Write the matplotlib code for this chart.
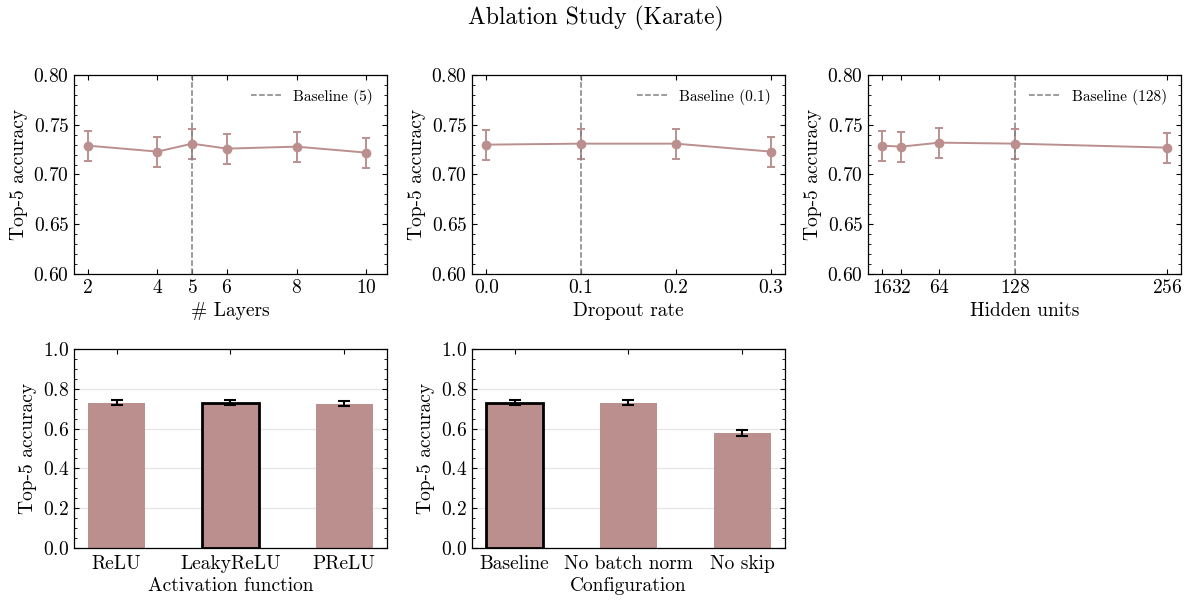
import matplotlib
matplotlib.use("Agg")
import matplotlib.pyplot as plt
from matplotlib.ticker import AutoMinorLocator

# data
layers = [2, 4, 5, 6, 8, 10]
layers_acc = [0.729, 0.723, 0.731, 0.726, 0.728, 0.722]
layers_err = [0.015, 0.015, 0.015, 0.015, 0.015, 0.015]

dropout = [0.0, 0.1, 0.2, 0.3]
dropout_acc = [0.730, 0.731, 0.731, 0.723]
dropout_err = [0.015, 0.015, 0.015, 0.015]

hidden = [16, 32, 64, 128, 256]
hidden_acc = [0.729, 0.728, 0.732, 0.731, 0.727]
hidden_err = [0.015, 0.015, 0.015, 0.015, 0.015]

activations = ["ReLU", "LeakyReLU", "PReLU"]
activation_acc = [0.731, 0.731, 0.726]
activation_err = [0.012, 0.012, 0.012]

configs = ["Baseline", "No batch norm", "No skip"]
config_acc = [0.731, 0.731, 0.578]
config_err = [0.012, 0.012, 0.014]

color = "rosybrown"

plt.rcParams["font.family"] = "serif"
plt.rcParams["font.serif"] = ["cmr10", "DejaVu Serif"]
plt.rcParams["axes.formatter.use_mathtext"] = True
plt.rcParams["mathtext.fontset"] = "cm"
plt.rcParams["axes.unicode_minus"] = False

fig = plt.figure(figsize=(11.91, 6.02), dpi=100)

W = 0.2628
H = 0.3305
lefts = [0.0621, 0.3963, 0.7288]
top_bottom = 0.5449
low_bottom = 0.0897


def style(ax):
    ax.tick_params(which="both", direction="in", top=True, right=True, labelsize=14)
    ax.tick_params(which="major", length=3.6, width=0.8)
    ax.tick_params(which="minor", length=2.0, width=0.6)
    ax.yaxis.set_minor_locator(AutoMinorLocator())
    for s in ax.spines.values():
        s.set_linewidth(0.9)


def line_panel(ax, xs, ys, es, base, label, xlab, ticklabels=None):
    ax.errorbar(xs, ys, yerr=es, color=color, marker="o", markersize=6,
                linewidth=1.4, capsize=3, elinewidth=1.4, capthick=1.4)
    ax.axvline(base, color="gray", linestyle="--", linewidth=1.1, label=label)
    ax.set_ylim(0.6, 0.8)
    ax.set_yticks([0.60, 0.65, 0.70, 0.75, 0.80])
    ax.set_xticks(xs)
    if ticklabels is not None:
        ax.set_xticklabels(ticklabels)
    ax.set_xlabel(xlab, fontsize=14)
    ax.set_ylabel("Top-5 accuracy", fontsize=14)
    ax.legend(loc="upper right", frameon=False, fontsize=11)
    style(ax)


def bar_panel(ax, cats, vals, errs, base_idx, xlab):
    xs = range(len(cats))
    bars = ax.bar(xs, vals, width=0.5, color=color, zorder=2)
    bars[base_idx].set_edgecolor("black")
    bars[base_idx].set_linewidth(2)
    ax.errorbar(xs, vals, yerr=errs, fmt="none", ecolor="black",
                elinewidth=1.5, capsize=4, capthick=1.5, zorder=3)
    ax.set_ylim(0, 1.0)
    ax.set_yticks([0.0, 0.2, 0.4, 0.6, 0.8, 1.0])
    ax.set_xticks(list(xs))
    ax.set_xticklabels(cats)
    ax.grid(axis="y", color="#e6e6e6", linewidth=0.9, zorder=0)
    ax.set_axisbelow(True)
    ax.set_xlabel(xlab, fontsize=14, labelpad=3)
    ax.set_ylabel("Top-5 accuracy", fontsize=14)
    style(ax)
    ax.tick_params(axis="x", which="major", pad=5)


ax1 = fig.add_axes([lefts[0], top_bottom, W, H])
line_panel(ax1, layers, layers_acc, layers_err, 5, "Baseline (5)", "# Layers")
ax1.set_xlim(1.6, 10.6)

ax2 = fig.add_axes([lefts[1], top_bottom, W, H])
line_panel(ax2, dropout, dropout_acc, dropout_err, 0.1, "Baseline (0.1)", "Dropout rate",
           ["0.0", "0.1", "0.2", "0.3"])
ax2.set_xlim(-0.015, 0.315)

ax3 = fig.add_axes([lefts[2], top_bottom, W, H])
line_panel(ax3, hidden, hidden_acc, hidden_err, 128, "Baseline (128)", "Hidden units")
ax3.set_xlim(4, 268)

ax4 = fig.add_axes([lefts[0], low_bottom, W, H])
bar_panel(ax4, activations, activation_acc, activation_err, 1, "Activation function")

ax5 = fig.add_axes([lefts[1], low_bottom, W, H])
bar_panel(ax5, configs, config_acc, config_err, 0, "Configuration")

fig.suptitle("Ablation Study (Karate)", fontsize=17, y=0.99)

fig.savefig("out.png", dpi=100)
